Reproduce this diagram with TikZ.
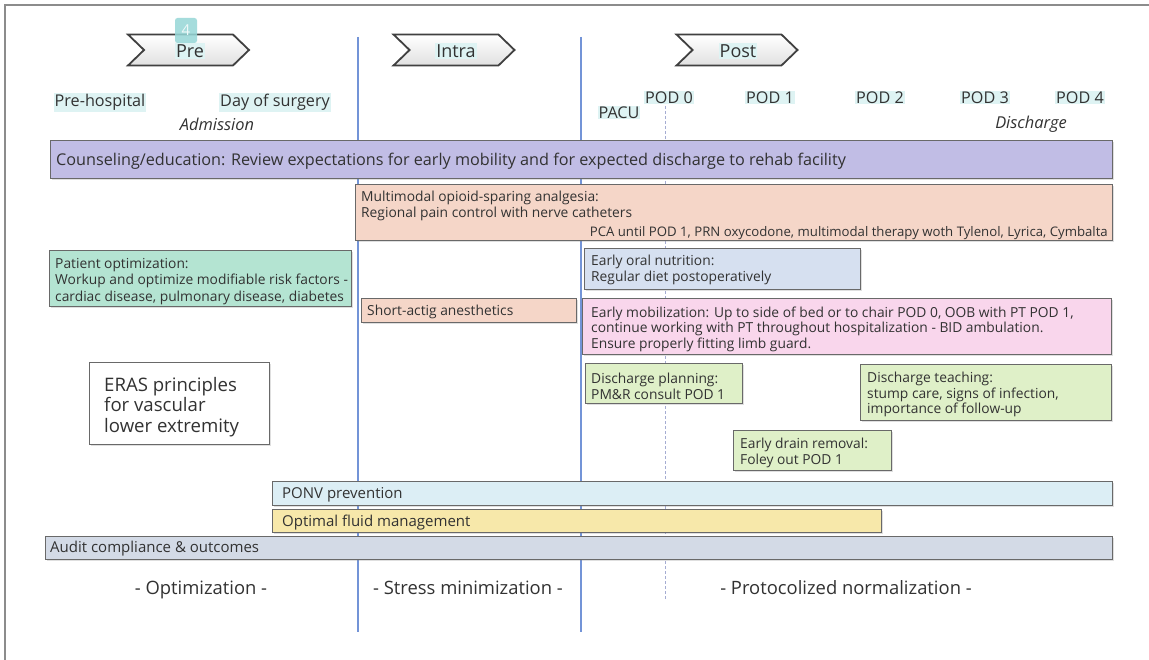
\documentclass[tikz,border=0pt]{standalone}
\usepackage{fontspec}
\setmainfont{Open Sans}
\usetikzlibrary{shadows,shapes.symbols}
\definecolor{cBd}{RGB}{105,105,105}
\definecolor{cTx}{RGB}{50,50,50}
\definecolor{cHi}{RGB}{222,243,243}
\definecolor{cLav}{RGB}{193,189,229}
\definecolor{cPeach}{RGB}{245,214,200}
\definecolor{cMint}{RGB}{180,228,210}
\definecolor{cLblue}{RGB}{214,224,240}
\definecolor{cPink}{RGB}{249,214,236}
\definecolor{cGreen}{RGB}{223,240,200}
\definecolor{cCyan}{RGB}{220,238,245}
\definecolor{cYel}{RGB}{247,232,170}
\definecolor{cAudit}{RGB}{211,218,230}
\definecolor{cLine}{RGB}{115,148,215}
\definecolor{cDash}{RGB}{165,172,210}
\definecolor{cFrame}{RGB}{140,140,140}
\definecolor{cBadge}{RGB}{150,215,215}
\begin{document}
\begin{tikzpicture}[x=1pt,y=-1pt,
  bar/.style={draw=cBd, line width=1.2pt, anchor=north west, inner sep=0pt,
    drop shadow={shadow xshift=1.2pt,shadow yshift=-1.2pt,opacity=0.25}},
  txt/.style={text=cTx, inner sep=0pt, align=left, anchor=west, yshift=-2pt,
    font=\fontsize{13.8}{16}\selectfont},
  lab/.style={text=cTx, fill=cHi, inner sep=1pt, yshift=-1.5pt, font=\fontsize{16.2}{18}\selectfont},
  ital/.style={text=cTx, inner sep=0pt, yshift=-1.5pt, font=\fontsize{16.4}{18}\selectfont\itshape},
  chev/.style={signal, signal to=east, signal from=west, signal pointer angle=88,
    draw=black!75, line width=1.8pt, top color=white, bottom color=black!12,
    minimum width=121pt, minimum height=31pt, inner sep=0pt},
  chevtxt/.style={text=cTx, fill=cHi, inner sep=1pt, yshift=-1pt, font=\fontsize{18}{20}\selectfont},
  phase/.style={text=cTx, inner sep=0pt, anchor=base, font=\fontsize{18.4}{20}\selectfont},
  vline/.style={draw=cLine, line width=1.3pt},
]
\useasboundingbox (0,0) rectangle (1149,660);
\fill[white] (0,0) rectangle (1149,660);
% frame
\coordinate (fA) at (5,660);
\coordinate (fB) at (5,5);
\coordinate (fC) at (1149,5);
\draw[cFrame, line width=2.5pt] (fA) -- (fB) -- (fC);

% vertical lines
\coordinate (v1t) at (358,37);
\coordinate (v1b) at (358,632);
\coordinate (v2t) at (581,37);
\coordinate (v2b) at (581,632);
\coordinate (v3t) at (665,106);
\coordinate (v3b) at (665,600);
\draw[vline] (v1t) -- (v1b);
\draw[vline] (v2t) -- (v2b);
\draw[cDash, line width=1pt, dash pattern=on 3pt off 2pt] (v3t) -- (v3b);

% chevrons
\node[chev] (pre) at (188.5,50) {};
\node[chevtxt] (preT) at (190,50) {Pre};
\node[chev] (intra) at (454,50) {};
\node[chevtxt] (intraT) at (456,50) {Intra};
\node[chev] (post) at (737,50) {};
\node[chevtxt] (postT) at (738,50) {Post};
\node[fill=cBadge, fill opacity=0.85, text opacity=1, text=white!85!cBadge, rounded corners=2.5pt,
  minimum width=22pt, minimum height=25pt, inner sep=0pt, font=\fontsize{15}{16}\selectfont] (badge) at (186,30.5) {4};

% time labels
\node[lab] (prehosp) at (100,101) {Pre-hospital};
\node[lab] (dos) at (275,101) {Day of surgery};
\node[ital] (adm) at (217,123) {Admission};
\node[lab] (pacu) at (619,111) {PACU};
\node[lab] (pod0) at (669,96) {POD 0};
\node[lab] (pod1) at (770,96) {POD 1};
\node[lab] (pod2) at (880,96) {POD 2};
\node[lab] (pod3) at (985,96) {POD 3};
\node[lab] (pod4) at (1080,96) {POD 4};
\node[ital] (dis) at (1031,123) {Discharge};

% boxes
\node[bar, fill=cLav, minimum width=1062pt, minimum height=38pt] (couns) at (50,140) {};
\node[txt, font=\fontsize{16.2}{18}\selectfont] (counsT) at (56,159) {Counseling/education: Review expectations for early mobility and for expected discharge to rehab facility};

\node[bar, fill=cPeach, minimum width=757pt, minimum height=56pt] (multi) at (355,184) {};
\node[txt] (multiT) at (361,204) {Multimodal opioid-sparing analgesia:\\Regional pain control with nerve catheters};
\node[txt, anchor=east, font=\fontsize{13.2}{16}\selectfont] (multiT2) at (1108,231) {PCA until POD 1, PRN oxycodone, multimodal therapy woth Tylenol, Lyrica, Cymbalta};

\node[bar, fill=cMint, minimum width=302pt, minimum height=56pt] (patopt) at (49,250) {};
\node[txt, font=\fontsize{13.8}{16.5}\selectfont] (patoptT) at (55,279.5) {Patient optimization:\\Workup and optimize modifiable risk factors -\\cardiac disease, pulmonary disease, diabetes};

\node[bar, fill=cPeach, minimum width=215pt, minimum height=24pt] (short) at (361,298) {};
\node[txt] (shortT) at (367,310) {Short-actig anesthetics};

\node[bar, fill=cLblue, minimum width=276pt, minimum height=41pt] (oral) at (584,248) {};
\node[txt] (oralT) at (591,268) {Early oral nutrition:\\Regular diet postoperatively};

\node[bar, fill=cPink, minimum width=529pt, minimum height=56pt] (mobil) at (582,298) {};
\node[txt, font=\fontsize{13.8}{15.5}\selectfont] (mobilT) at (591,327) {Early mobilization: Up to side of bed or to chair POD 0, OOB with PT POD 1,\\continue working with PT throughout hospitalization - BID ambulation.\\Ensure properly fitting limb guard.};

\node[bar, fill=cGreen, minimum width=157pt, minimum height=40pt] (dplan) at (585,363) {};
\node[txt] (dplanT) at (591,384) {Discharge planning:\\PM\&R consult POD 1};

\node[bar, fill=cGreen, minimum width=251pt, minimum height=56pt] (dteach) at (860,364) {};
\node[txt, font=\fontsize{13.8}{15.5}\selectfont] (dteachT) at (867,392.5) {Discharge teaching:\\stump care, signs of infection,\\importance of follow-up};

\node[bar, fill=cGreen, minimum width=158pt, minimum height=40pt] (drain) at (733,430) {};
\node[txt] (drainT) at (740,451) {Early drain removal:\\Foley out POD 1};

\node[bar, fill=white, minimum width=180pt, minimum height=82pt] (eras) at (89,362) {};
\node[txt, font=\fontsize{18.6}{20.5}\selectfont] (erasT) at (104,405) {ERAS principles\\for vascular\\lower extremity};

\node[bar, fill=cCyan, minimum width=840pt, minimum height=24pt] (ponv) at (272,481) {};
\node[txt, font=\fontsize{15}{16}\selectfont] (ponvT) at (282,493) {PONV prevention};

\node[bar, fill=cYel, minimum width=609pt, minimum height=23pt] (fluid) at (272,509) {};
\node[txt, font=\fontsize{15}{16}\selectfont] (fluidT) at (282,521) {Optimal fluid management};

\node[bar, fill=cAudit, minimum width=1067pt, minimum height=23pt] (audit) at (45,536) {};
\node[txt, font=\fontsize{15}{16}\selectfont] (auditT) at (50,547) {Audit compliance \& outcomes};

% phase labels
\node[phase] (ph1) at (201,594.5) {- Optimization -};
\node[phase] (ph2) at (468,594.5) {- Stress minimization -};
\node[phase] (ph3) at (846,594.5) {- Protocolized normalization -};
\end{tikzpicture}
\end{document}
